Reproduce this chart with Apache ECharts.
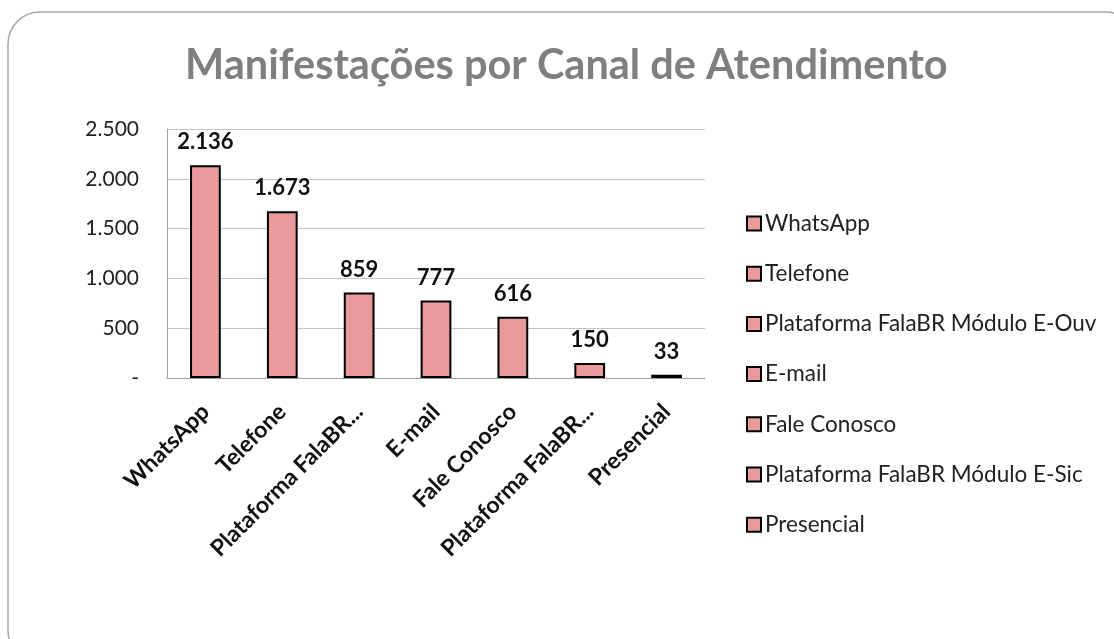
<!DOCTYPE html>
<html>
<head>
<meta charset="utf-8">
<script src="https://cdn.jsdelivr.net/npm/echarts@6/dist/echarts.min.js"></script>
<style>
    html, body { margin: 0; padding: 0; background: #fff; }
    #echart { width: 1114px; height: 639px; }
</style>
</head>
<body>
<div id="echart"></div>
<script>
// canais de atendimento
var categorias = ['WhatsApp', 'Telefone', 'Plataforma FalaBR Módulo E-Ouv', 'E-mail',
    'Fale Conosco', 'Plataforma FalaBR Módulo E-Sic', 'Presencial'];
// rótulos curtos do eixo x
var rotulosEixo = ['WhatsApp', 'Telefone', 'Plataforma FalaBR...', 'E-mail',
    'Fale Conosco', 'Plataforma FalaBR...', 'Presencial'];
// quantidade de manifestações
var valores = [2136, 1673, 859, 777, 616, 150, 33];

var fonte = 'Lato';
var corBarra = '#E99A9A';

// formata com ponto de milhar, zero vira "-"
function milhar(v) {
    if (v === 0) return '-';
    return String(v).replace(/\B(?=(\d{3})+(?!\d))/g, '.');
}

var myChart = echarts.init(document.getElementById('echart'));

// uma série por canal, empilhadas, para que cada uma apareça na legenda
var series = [];
categorias.forEach(function (nome, i) {
    var dados = valores.map(function (v, j) { return j === i ? v : '-'; });
    series.push({
        name: nome,
        type: 'bar',
        stack: 'total',
        barWidth: '40%',
        data: dados,
        itemStyle: { color: corBarra, borderColor: '#000', borderWidth: 2 },
        label: {
            show: true,
            position: 'top',
            distance: 12,
            fontFamily: fonte,
            fontWeight: 'bold',
            fontSize: 22,
            color: '#111',
            formatter: function (p) { return milhar(p.value); }
        }
    });
});

var option = {
    animation: false,
    graphic: [{
        type: 'rect',
        shape: { x: 8, y: 12, width: 1130, height: 650, r: 32 },
        style: { fill: 'none', stroke: '#a6a6a6', lineWidth: 1.5 },
        z: -10
    }],
    title: {
        text: 'Manifestações por Canal de Atendimento',
        left: 180,
        top: 40,
        textStyle: { fontFamily: fonte, fontWeight: 'bold', fontSize: 41.5, color: '#7f7f7f' }
    },
    legend: {
        orient: 'vertical',
        left: 741,
        top: 207,
        itemGap: 27.2,
        itemWidth: 14,
        itemHeight: 14,
        icon: 'rect',
        data: categorias,
        textStyle: { fontFamily: fonte, fontSize: 22.5, color: '#222', padding: [0, 0, 0, -1] }
    },
    grid: { left: 167, right: 409, top: 129, bottom: 261 },
    xAxis: {
        type: 'category',
        data: rotulosEixo,
        axisLine: { lineStyle: { color: '#a0a0a0' } },
        axisTick: { show: false },
        axisLabel: {
            rotate: 45,
            interval: 0,
            margin: 30,
            fontFamily: fonte,
            fontWeight: 'bold',
            fontSize: 23,
            color: '#111'
        }
    },
    yAxis: {
        type: 'value',
        min: 0,
        max: 2500,
        interval: 500,
        axisLine: { show: true, lineStyle: { color: '#a0a0a0' } },
        axisTick: { show: false },
        splitLine: { lineStyle: { color: '#c4c4c4' } },
        axisLabel: {
            margin: 28,
            fontFamily: fonte,
            fontSize: 21,
            color: '#222',
            formatter: milhar
        }
    },
    series: series
};

myChart.setOption(option);
</script>
</body>
</html>
